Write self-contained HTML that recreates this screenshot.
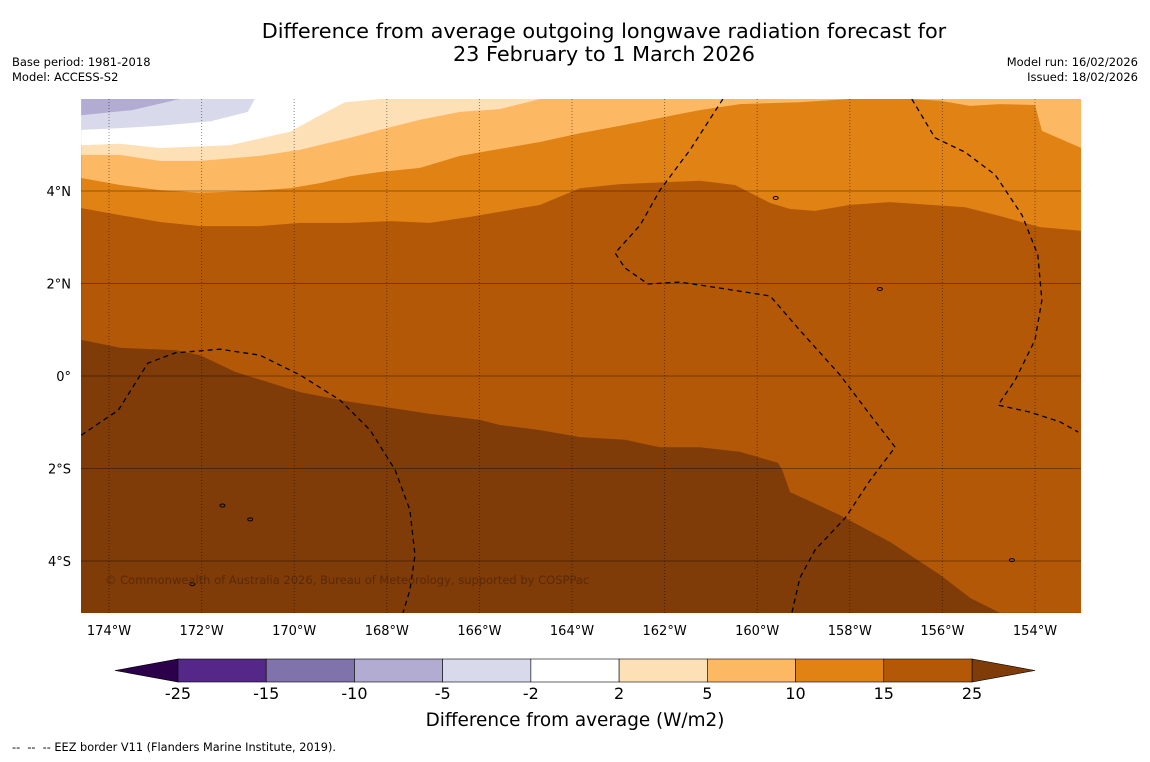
<!DOCTYPE html>
<html><head><meta charset="utf-8">
<style>
html,body{margin:0;padding:0;background:#fff;}
body{width:1150px;height:758px;overflow:hidden;font-family:"DejaVu Sans","Liberation Sans",sans-serif;}
svg text{font-family:"DejaVu Sans","Liberation Sans",sans-serif;white-space:pre;}
</style></head>
<body>
<svg id="chart" width="1150" height="758" viewBox="0 0 1150 758" xmlns="http://www.w3.org/2000/svg">
<text x="604" y="38" font-size="20.8" text-anchor="middle" fill="#000">Difference from average outgoing longwave radiation forecast for</text>
<text x="604" y="61" font-size="20.8" text-anchor="middle" fill="#000">23 February to 1 March 2026</text>
<text x="12" y="66" font-size="11.5">Base period: 1981-2018</text>
<text x="12" y="81" font-size="11.5">Model: ACCESS-S2</text>
<text x="1138" y="66" font-size="11.5" text-anchor="end">Model run: 16/02/2026</text>
<text x="1138" y="81" font-size="11.5" text-anchor="end">Issued: 18/02/2026</text>
<defs><clipPath id="mapclip"><rect x="81" y="99" width="1000" height="514"/></clipPath></defs>
<g id="map" clip-path="url(#mapclip)"></g>
<g id="axes"></g>
<g id="cbar"></g>
<text x="575" y="726" font-size="18.4" text-anchor="middle">Difference from average (W/m2)</text>
<text x="12" y="751" font-size="11.3" xml:space="preserve">--  --  -- EEZ border V11 (Flanders Marine Institute, 2019).</text>
</svg>
<script>
const lonTicks=[-174,-172,-170,-168,-166,-164,-162,-160,-158,-156,-154];
const lonLabels=["174°W","172°W","170°W","168°W","166°W","164°W","162°W","160°W","158°W","156°W","154°W"];
const latTicks=[4,2,0,-2,-4];
const latLabels=["4°N","2°N","0°","2°S","4°S"];
const cbLevels=[-25,-15,-10,-5,-2,2,5,10,15,25];
const cbColors=["#542788","#8073ac","#b2abd2","#d8daeb","#ffffff","#fee0b6","#fdb863","#e08214","#b35806"];
const cbUnder="#2d004b", cbOver="#7f3b08";
// contour boundaries [lon,lat]
const c25=[[-174.6,0.78],[-173.76,0.61],[-172.57,0.56],[-172.03,0.45],[-171.28,0.09],[-169.87,-0.35],[-168.79,-0.56],[-168.04,-0.67],[-167.07,-0.82],[-165.99,-0.95],[-165.56,-1.06],[-164.69,-1.17],[-163.83,-1.32],[-162.86,-1.38],[-162.1,-1.54],[-161.24,-1.54],[-160.37,-1.64],[-159.55,-1.88],[-159.46,-2.03],[-159.29,-2.51],[-158.21,-3.01],[-157.13,-3.59],[-156.05,-4.3],[-155.4,-4.8],[-154.76,-5.12]];
const c15=[[-174.6,3.63],[-173.76,3.48],[-172.9,3.33],[-172.03,3.24],[-170.74,3.24],[-169.87,3.31],[-168.79,3.31],[-167.93,3.35],[-167.07,3.31],[-166.2,3.44],[-164.69,3.7],[-163.83,4.06],[-162.96,4.15],[-161.24,4.22],[-160.48,4.13],[-159.72,3.74],[-159.29,3.61],[-158.75,3.57],[-158.0,3.7],[-157.13,3.76],[-155.51,3.65],[-154.76,3.46],[-153.89,3.22],[-153.0,3.14]];
const c10=[[-174.6,4.28],[-173.76,4.13],[-172.9,4.02],[-172.03,3.96],[-170.95,4.0],[-170.09,4.06],[-169.44,4.17],[-168.79,4.32],[-168.15,4.41],[-167.28,4.5],[-166.42,4.76],[-165.56,4.91],[-164.69,5.06],[-163.83,5.25],[-162.96,5.41],[-162.1,5.58],[-161.24,5.75],[-160.37,5.88],[-159.08,5.92],[-158.0,5.99]];
const c10b=[[-156.7,5.99],[-156.05,5.95],[-155.4,5.84],[-154.76,5.88],[-154.0,5.86],[-153.85,5.3],[-153.0,4.93],[-153.0,5.99]];
const c5=[[-174.6,4.78],[-173.76,4.78],[-172.9,4.65],[-172.03,4.65],[-170.74,4.76],[-169.87,4.89],[-168.79,5.15],[-168.15,5.32],[-167.28,5.54],[-166.42,5.71],[-165.56,5.77],[-164.69,5.99]];
const c2=[[-174.6,4.99],[-173.76,5.02],[-172.9,4.93],[-171.39,4.99],[-170.09,5.28],[-169.44,5.64],[-168.9,5.92],[-168.15,5.99]];
const cm2=[[-174.6,5.32],[-173.76,5.36],[-172.9,5.41],[-171.8,5.51],[-171.0,5.71],[-170.85,5.99]];
const cm5=[[-174.6,5.64],[-173.5,5.75],[-172.47,5.99]];
const eez1=[[-174.6,-1.28],[-173.8,-0.74],[-173.16,0.28],[-172.57,0.5],[-171.6,0.58],[-170.74,0.45],[-169.87,0.02],[-169.01,-0.52],[-168.36,-1.17],[-167.82,-2.03],[-167.5,-2.9],[-167.39,-3.87],[-167.5,-4.63],[-167.65,-5.12]];
const eez2=[[-160.74,5.99],[-161.45,4.89],[-162.1,4.02],[-162.53,3.26],[-163.07,2.66],[-162.86,2.34],[-162.36,1.99],[-161.67,2.03],[-160.8,1.9],[-159.72,1.73],[-159.08,0.99],[-158.21,0.02],[-157.56,-0.84],[-157.02,-1.54],[-157.56,-2.25],[-158.1,-3.07],[-158.75,-3.76],[-159.08,-4.37],[-159.25,-5.12]];
const eez3=[[-156.66,5.99],[-156.16,5.15],[-155.51,4.84],[-154.86,4.35],[-154.28,3.48],[-153.94,2.62],[-153.85,1.64],[-154.0,0.78],[-154.43,-0.09],[-154.8,-0.63],[-154.11,-0.78],[-153.46,-0.99],[-153.07,-1.21]];
const islands=[[-157.35,1.88],[-159.6,3.85],[-171.55,-2.8],[-170.95,-3.1],[-172.2,-4.5],[-154.5,-3.98]];
const LON0=-174.6,LON1=-153.0,LAT0=-5.12,LAT1=5.99;
function X(lon){return 109+(lon+174)*46.3;}
function Y(lat){return 376-lat*46.25;}
const NS="http://www.w3.org/2000/svg";
function mk(tag,attrs,parent){const e=document.createElementNS(NS,tag);for(const k in attrs)e.setAttribute(k,attrs[k]);parent.appendChild(e);return e;}
function pts(a){return a.map(p=>X(p[0]).toFixed(1)+","+Y(p[1]).toFixed(1)).join(" ");}
const map=document.getElementById("map");
let bg=mk("rect",{x:81,y:99,width:1000,height:514,fill:cbOver},map);


const TL=[LON0,LAT1],TR=[LON1,LAT1],BR=[LON1,LAT0];
const layers=[
 [c25.concat([BR,TR,TL]),cbColors[8],'anomaly-15-25'],
 [c15.concat([TR,TL]),cbColors[7],'anomaly-10-15'],
 [c10.concat([TL]),cbColors[6],'anomaly-5-10'],
 [c10b,cbColors[6],'anomaly-5-10-east'],
 [c5.concat([TL]),cbColors[5],'anomaly-2-5'],
 [c2.concat([TL]),cbColors[4],'anomaly-neutral'],
 [cm2.concat([TL]),cbColors[3],'anomaly-minus2-minus5'],
 [cm5.concat([TL]),cbColors[2],'anomaly-minus5-minus10']
];
layers.forEach(l=>{const p=mk("polygon",{points:pts(l[0]),fill:l[1]},map);

});
latTicks.forEach(t=>{const l=mk("line",{x1:81,x2:1081,y1:Y(t),y2:Y(t),stroke:"#000","stroke-opacity":0.35,"stroke-width":1},map);

});
lonTicks.forEach(t=>{const l=mk("line",{x1:X(t),x2:X(t),y1:99,y2:613,stroke:"#000","stroke-opacity":0.45,"stroke-width":1,"stroke-dasharray":"1,2"},map);

});
[eez1,eez2,eez3].forEach(e=>{const l=mk("polyline",{points:pts(e),fill:"none",stroke:"#000","stroke-width":1.3,"stroke-dasharray":"5,4"},map);

});
islands.forEach(p=>{const c=mk("ellipse",{cx:X(p[0]),cy:Y(p[1]),rx:2.5,ry:1.5,fill:"none",stroke:"#000","stroke-width":1},map);

});
const cr=mk("text",{x:105,y:584,"font-size":11.5,fill:"#5a2a06"},map);
cr.textContent="© Commonwealth of Australia 2026, Bureau of Meteorology, supported by COSPPac";


const axes=document.getElementById("axes");
lonTicks.forEach((t,i)=>{const tx=mk("text",{x:X(t),y:635,"font-size":13,"text-anchor":"middle"},axes);tx.textContent=lonLabels[i];

});
latTicks.forEach((t,i)=>{const tx=mk("text",{x:71,y:Y(t)+5,"font-size":13,"text-anchor":"end"},axes);tx.textContent=latLabels[i];

});
// colorbar
const cb=document.getElementById("cbar");
const cx0=178,cx1=972,cy0=659,cy1=682;
function CX(i){return cx0+(cx1-cx0)*i/(cbLevels.length-1);}
let tri=mk("polygon",{points:`${cx0},${cy0} ${cx0},${cy1} 115,${(cy0+cy1)/2}`,fill:cbUnder,stroke:"#000","stroke-width":0.6},cb);


tri=mk("polygon",{points:`${cx1},${cy0} ${cx1},${cy1} 1035,${(cy0+cy1)/2}`,fill:cbOver,stroke:"#000","stroke-width":0.6},cb);


cbColors.forEach((c,i)=>{const r=mk("rect",{x:CX(i),y:cy0,width:CX(i+1)-CX(i),height:cy1-cy0,fill:c,stroke:"#000","stroke-width":0.6},cb);

});
cbLevels.forEach((v,i)=>{const t=mk("text",{x:CX(i),y:699,"font-size":16,"text-anchor":"middle"},cb);t.textContent=String(v);

});
</script>
</body></html>
